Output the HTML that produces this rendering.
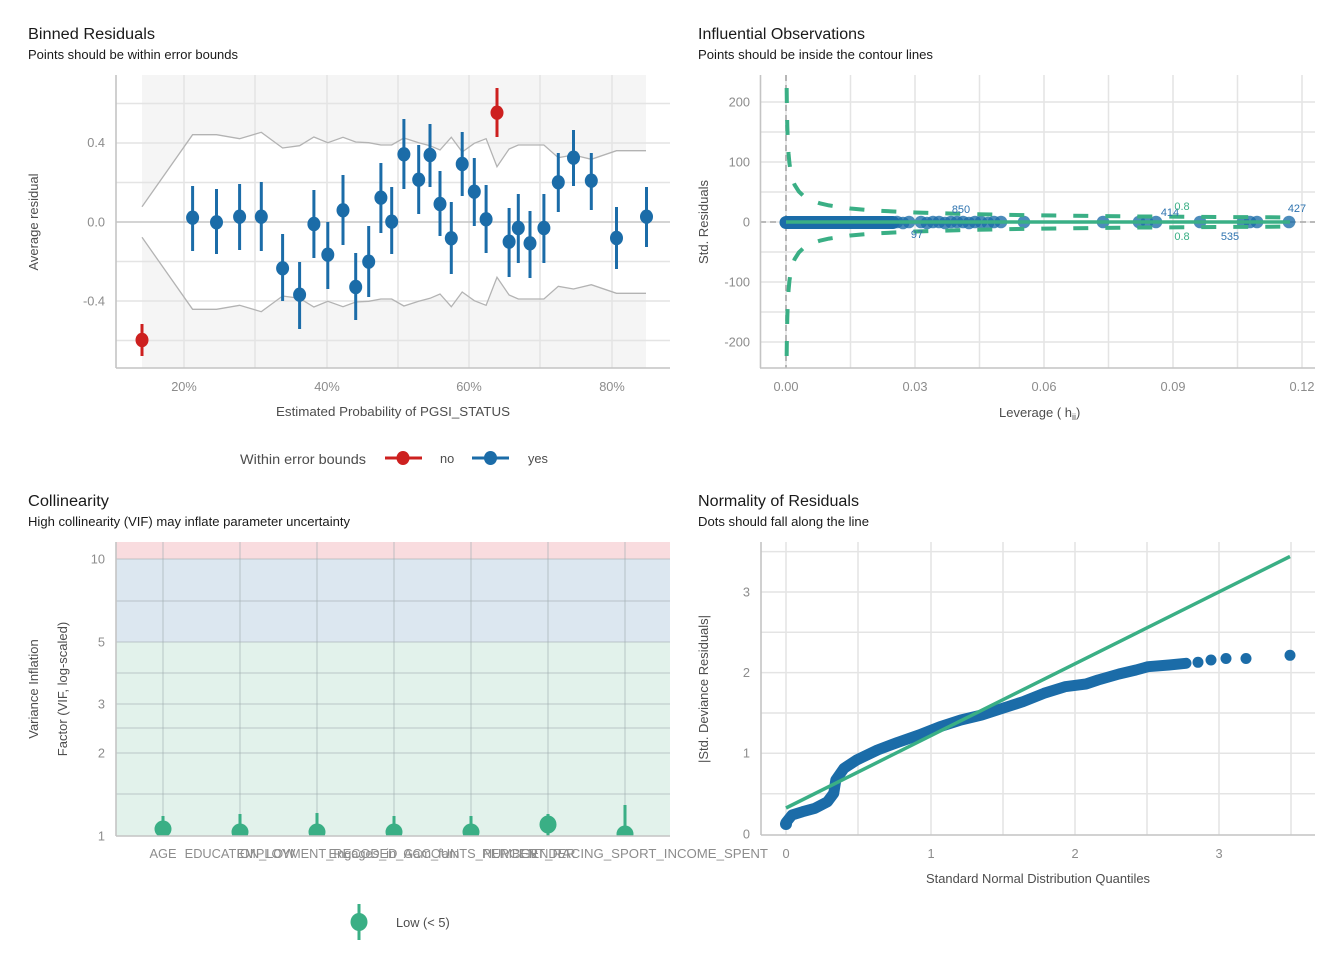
<!DOCTYPE html>
<html><head><meta charset="utf-8"><style>html,body{margin:0;padding:0;background:#fff}svg{display:block}</style></head>
<body>
<svg width="1344" height="960" viewBox="0 0 1344 960" xmlns="http://www.w3.org/2000/svg" font-family="'Liberation Sans', Arial, sans-serif">
<rect width="1344" height="960" fill="#fff"/>
<defs>
<clipPath id="c3"><rect x="116" y="542" width="554" height="294"/></clipPath>
<clipPath id="c2"><rect x="760" y="75" width="555" height="293"/></clipPath>
</defs>

<!-- ================= Panel 1: Binned Residuals ================= -->
<text x="28" y="39" font-size="15.3" fill="#1a1a1a" textLength="127" lengthAdjust="spacingAndGlyphs">Binned Residuals</text>
<text x="28" y="59" font-size="12.8" fill="#1a1a1a" textLength="210" lengthAdjust="spacingAndGlyphs">Points should be within error bounds</text>

<!-- gray outside-bounds regions -->
<path fill="#f5f5f5" d="M142,75 L142,206.7 L192.6,134.7 L216.5,134.7 L239.6,138.7 L261.3,132.3 L282.6,148 L299.6,145.7 L313.9,137 L327.8,142.7 L343,137.3 L355.7,142 L368.7,142.7 L380.9,145 L391.7,145 L403.9,138 L418.7,142.7 L430,145.7 L440,150 L451.3,137.3 L462.2,152 L474.3,143.3 L486.1,138.7 L497,166.7 L509.1,149 L518.3,145 L530,145 L543.9,145 L558.3,157.7 L573.5,155 L591.3,159.3 L616.5,150.7 L646,150.7 L646,75 Z"/>
<path fill="#f5f5f5" d="M142,368 L142,237.3 L192.6,309.3 L216.5,309.3 L239.6,305.3 L261.3,311.7 L282.6,296 L299.6,298.3 L313.9,307 L327.8,301.3 L343,306.7 L355.7,302 L368.7,301.3 L380.9,299 L391.7,299 L403.9,306 L418.7,301.3 L430,298.3 L440,294 L451.3,306.7 L462.2,292 L474.3,300.7 L486.1,305.3 L497,277.3 L509.1,295 L518.3,299 L530,299 L543.9,299 L558.3,286.3 L573.5,289 L591.3,284.7 L616.5,293.3 L646,293.3 L646,368 Z"/>

<g stroke="#e4e4e4" stroke-width="1.5">
<line x1="184" y1="75" x2="184" y2="368"/><line x1="255" y1="75" x2="255" y2="368"/><line x1="327" y1="75" x2="327" y2="368"/><line x1="398" y1="75" x2="398" y2="368"/><line x1="469" y1="75" x2="469" y2="368"/><line x1="540" y1="75" x2="540" y2="368"/><line x1="612" y1="75" x2="612" y2="368"/>
<line x1="116" y1="103.5" x2="670" y2="103.5"/><line x1="116" y1="143" x2="670" y2="143"/><line x1="116" y1="182.5" x2="670" y2="182.5"/><line x1="116" y1="261.5" x2="670" y2="261.5"/><line x1="116" y1="301" x2="670" y2="301"/><line x1="116" y1="340.5" x2="670" y2="340.5"/>
</g>
<line x1="116" y1="222" x2="670" y2="222" stroke="#c6c6c6" stroke-width="1.6"/>

<g fill="none" stroke="#b3b3b3" stroke-width="1.3">
<polyline points="142,206.7 192.6,134.7 216.5,134.7 239.6,138.7 261.3,132.3 282.6,148 299.6,145.7 313.9,137 327.8,142.7 343,137.3 355.7,142 368.7,142.7 380.9,145 391.7,145 403.9,138 418.7,142.7 430,145.7 440,150 451.3,137.3 462.2,152 474.3,143.3 486.1,138.7 497,166.7 509.1,149 518.3,145 530,145 543.9,145 558.3,157.7 573.5,155 591.3,159.3 616.5,150.7 646,150.7"/>
<polyline points="142,237.3 192.6,309.3 216.5,309.3 239.6,305.3 261.3,311.7 282.6,296 299.6,298.3 313.9,307 327.8,301.3 343,306.7 355.7,302 368.7,301.3 380.9,299 391.7,299 403.9,306 418.7,301.3 430,298.3 440,294 451.3,306.7 462.2,292 474.3,300.7 486.1,305.3 497,277.3 509.1,295 518.3,299 530,299 543.9,299 558.3,286.3 573.5,289 591.3,284.7 616.5,293.3 646,293.3"/>
</g>
<g stroke="#c4c4c4" stroke-width="1.6">
<line x1="116" y1="75" x2="116" y2="368"/><line x1="116" y1="368" x2="670" y2="368"/>
</g>

<!-- error bars -->
<g stroke="#1b6ca8" stroke-width="3">
<line x1="192.6" y1="186" x2="192.6" y2="251"/><line x1="216.5" y1="189" x2="216.5" y2="254"/><line x1="239.6" y1="184" x2="239.6" y2="250"/><line x1="261.3" y1="182" x2="261.3" y2="251"/><line x1="282.6" y1="234" x2="282.6" y2="301"/><line x1="299.6" y1="262" x2="299.6" y2="329"/><line x1="313.9" y1="190" x2="313.9" y2="258"/><line x1="327.8" y1="222" x2="327.8" y2="289"/><line x1="343" y1="175" x2="343" y2="245"/><line x1="355.7" y1="253" x2="355.7" y2="320"/><line x1="368.7" y1="226" x2="368.7" y2="297"/><line x1="380.9" y1="163" x2="380.9" y2="233"/><line x1="391.7" y1="187" x2="391.7" y2="254"/><line x1="403.9" y1="119" x2="403.9" y2="189"/><line x1="418.7" y1="145" x2="418.7" y2="214"/><line x1="430" y1="124" x2="430" y2="187"/><line x1="440" y1="171" x2="440" y2="236"/><line x1="451.3" y1="202" x2="451.3" y2="274"/><line x1="462.2" y1="132" x2="462.2" y2="196"/><line x1="474.3" y1="158" x2="474.3" y2="226"/><line x1="486.1" y1="185" x2="486.1" y2="253"/><line x1="509.1" y1="208" x2="509.1" y2="277"/><line x1="518.3" y1="194" x2="518.3" y2="263"/><line x1="530" y1="211" x2="530" y2="278"/><line x1="543.9" y1="194" x2="543.9" y2="263"/><line x1="558.3" y1="153" x2="558.3" y2="212"/><line x1="573.5" y1="130" x2="573.5" y2="186"/><line x1="591.3" y1="153" x2="591.3" y2="210"/><line x1="616.5" y1="207" x2="616.5" y2="269"/><line x1="646.5" y1="187" x2="646.5" y2="247"/>
</g>
<g fill="#1b6ca8">
<ellipse cx="192.6" cy="217.7" rx="6.5" ry="7.2"/><ellipse cx="216.5" cy="222.3" rx="6.5" ry="7.2"/><ellipse cx="239.6" cy="216.7" rx="6.5" ry="7.2"/><ellipse cx="261.3" cy="216.7" rx="6.5" ry="7.2"/><ellipse cx="282.6" cy="268.3" rx="6.5" ry="7.2"/><ellipse cx="299.6" cy="294.7" rx="6.5" ry="7.2"/><ellipse cx="313.9" cy="224" rx="6.5" ry="7.2"/><ellipse cx="327.8" cy="254.7" rx="6.5" ry="7.2"/><ellipse cx="343" cy="210.3" rx="6.5" ry="7.2"/><ellipse cx="355.7" cy="287" rx="6.5" ry="7.2"/><ellipse cx="368.7" cy="261.7" rx="6.5" ry="7.2"/><ellipse cx="380.9" cy="197.7" rx="6.5" ry="7.2"/><ellipse cx="391.7" cy="221.7" rx="6.5" ry="7.2"/><ellipse cx="403.9" cy="154.3" rx="6.5" ry="7.2"/><ellipse cx="418.7" cy="179.7" rx="6.5" ry="7.2"/><ellipse cx="430" cy="155" rx="6.5" ry="7.2"/><ellipse cx="440" cy="204" rx="6.5" ry="7.2"/><ellipse cx="451.3" cy="238.3" rx="6.5" ry="7.2"/><ellipse cx="462.2" cy="164" rx="6.5" ry="7.2"/><ellipse cx="474.3" cy="191.7" rx="6.5" ry="7.2"/><ellipse cx="486.1" cy="219.3" rx="6.5" ry="7.2"/><ellipse cx="509.1" cy="241.7" rx="6.5" ry="7.2"/><ellipse cx="518.3" cy="228" rx="6.5" ry="7.2"/><ellipse cx="530" cy="243.3" rx="6.5" ry="7.2"/><ellipse cx="543.9" cy="228" rx="6.5" ry="7.2"/><ellipse cx="558.3" cy="182.3" rx="6.5" ry="7.2"/><ellipse cx="573.5" cy="157.7" rx="6.5" ry="7.2"/><ellipse cx="591.3" cy="180.7" rx="6.5" ry="7.2"/><ellipse cx="616.5" cy="238" rx="6.5" ry="7.2"/><ellipse cx="646.5" cy="216.7" rx="6.5" ry="7.2"/>
</g>
<g stroke="#cd201f" stroke-width="3">
<line x1="142" y1="324" x2="142" y2="356"/><line x1="497" y1="88" x2="497" y2="137"/>
</g>
<g fill="#cd201f">
<ellipse cx="142" cy="340" rx="6.5" ry="7.2"/><ellipse cx="497" cy="112.7" rx="6.5" ry="7.2"/>
</g>

<g font-size="12.8" fill="#8c8c8c">
<text x="105" y="147" text-anchor="end">0.4</text>
<text x="105" y="226.5" text-anchor="end">0.0</text>
<text x="105" y="305.5" text-anchor="end">-0.4</text>
<text x="184" y="391" text-anchor="middle">20%</text>
<text x="327" y="391" text-anchor="middle">40%</text>
<text x="469" y="391" text-anchor="middle">60%</text>
<text x="612" y="391" text-anchor="middle">80%</text>
</g>
<text x="393" y="416" font-size="13" fill="#4d4d4d" text-anchor="middle" textLength="234" lengthAdjust="spacingAndGlyphs">Estimated Probability of PGSI_STATUS</text>
<text transform="translate(38,222) rotate(-90)" font-size="13" fill="#4d4d4d" text-anchor="middle" textLength="97" lengthAdjust="spacingAndGlyphs">Average residual</text>

<!-- legend panel 1 -->
<text x="240" y="464" font-size="14" fill="#4d4d4d" textLength="126" lengthAdjust="spacingAndGlyphs">Within error bounds</text>
<line x1="385" y1="458" x2="422" y2="458" stroke="#cd201f" stroke-width="3"/>
<ellipse cx="403" cy="458" rx="6.5" ry="7" fill="#cd201f"/>
<text x="440" y="463" font-size="12.8" fill="#4d4d4d">no</text>
<line x1="472" y1="458" x2="509" y2="458" stroke="#1b6ca8" stroke-width="3"/>
<ellipse cx="490.5" cy="458" rx="6.5" ry="7" fill="#1b6ca8"/>
<text x="528" y="463" font-size="12.8" fill="#4d4d4d">yes</text>

<!-- ================= Panel 2: Influential Observations ================= -->
<text x="698" y="39" font-size="15.3" fill="#1a1a1a" textLength="167" lengthAdjust="spacingAndGlyphs">Influential Observations</text>
<text x="698" y="59" font-size="12.8" fill="#1a1a1a" textLength="235" lengthAdjust="spacingAndGlyphs">Points should be inside the contour lines</text>

<g stroke="#e4e4e4" stroke-width="1.5">
<line x1="786" y1="75" x2="786" y2="368"/><line x1="850.5" y1="75" x2="850.5" y2="368"/><line x1="915" y1="75" x2="915" y2="368"/><line x1="979.5" y1="75" x2="979.5" y2="368"/><line x1="1044" y1="75" x2="1044" y2="368"/><line x1="1108.5" y1="75" x2="1108.5" y2="368"/><line x1="1173" y1="75" x2="1173" y2="368"/><line x1="1237.5" y1="75" x2="1237.5" y2="368"/><line x1="1302" y1="75" x2="1302" y2="368"/>
<line x1="760" y1="102" x2="1315" y2="102"/><line x1="760" y1="132" x2="1315" y2="132"/><line x1="760" y1="162" x2="1315" y2="162"/><line x1="760" y1="192" x2="1315" y2="192"/><line x1="760" y1="222" x2="1315" y2="222"/><line x1="760" y1="252" x2="1315" y2="252"/><line x1="760" y1="282" x2="1315" y2="282"/><line x1="760" y1="312" x2="1315" y2="312"/><line x1="760" y1="342" x2="1315" y2="342"/>
</g>
<g stroke="#a8a8a8" stroke-width="1.6" stroke-dasharray="6 4">
<line x1="786" y1="75" x2="786" y2="368"/><line x1="760" y1="222" x2="1315" y2="222"/>
</g>
<g stroke="#c4c4c4" stroke-width="1.6">
<line x1="760.5" y1="75" x2="760.5" y2="368"/><line x1="760" y1="368" x2="1315" y2="368"/>
</g>

<!-- points -->
<line x1="786" y1="222.5" x2="893" y2="222.5" stroke="#1b6ca8" stroke-width="13" stroke-linecap="round"/>
<g fill="#1b6ca8" fill-opacity="0.78">
<circle cx="897" cy="222" r="6.3"/><circle cx="903" cy="223" r="6.3"/><circle cx="909" cy="222" r="6.3"/><circle cx="921" cy="222" r="6.3"/><circle cx="927" cy="223" r="6.3"/><circle cx="933" cy="222" r="6.3"/><circle cx="939" cy="222" r="6.3"/><circle cx="945" cy="223" r="6.3"/><circle cx="951" cy="222" r="6.3"/><circle cx="957" cy="222" r="6.3"/><circle cx="963" cy="222" r="6.3"/><circle cx="969" cy="223" r="6.3"/><circle cx="975" cy="222" r="6.3"/><circle cx="981" cy="222" r="6.3"/><circle cx="988" cy="223" r="6.3"/><circle cx="994" cy="222" r="6.3"/><circle cx="1001" cy="222" r="6.3"/><circle cx="1024" cy="222" r="6.3"/><circle cx="1103" cy="222" r="6.3"/><circle cx="1139" cy="222" r="6.3"/><circle cx="1147" cy="222" r="6.3"/><circle cx="1156" cy="222" r="6.3"/><circle cx="1200" cy="222" r="6.3"/><circle cx="1243" cy="222" r="6.3"/><circle cx="1250" cy="222" r="6.3"/><circle cx="1257" cy="222" r="6.3"/><circle cx="1289" cy="222" r="6.3"/>
</g>
<g clip-path="url(#c2)" fill="none" stroke="#3aaf85" stroke-width="4" stroke-dasharray="15 17">
<path d="M786.66,88 L786.86,104.3 L787.29,125.9 L787.72,138.8 L788.58,154 L789.44,163.2 L790.3,169.4 L792.45,179 L794.6,184.8 L798.9,191.6 L803.2,195.7 L811.8,200.6 L820.4,203.5 L829,205.4 L850.5,208.5 L872,210.4 L915,212.5 L958,213.8 L1001,214.7 L1044,215.4 L1130,216.4 L1216,217 L1289,217.4"/>
<path d="M786.66,356 L786.86,339.7 L787.29,318.1 L787.72,305.2 L788.58,290 L789.44,280.8 L790.3,274.6 L792.45,265 L794.6,259.2 L798.9,252.4 L803.2,248.3 L811.8,243.4 L820.4,240.5 L829,238.6 L850.5,235.5 L872,233.6 L915,231.5 L958,230.2 L1001,229.3 L1044,228.6 L1130,227.6 L1216,227 L1289,226.6"/>
</g>
<line x1="786" y1="222" x2="1290" y2="222" stroke="#3aaf85" stroke-width="3.5"/>

<g font-size="11" fill="#2f74b0">
<text x="961" y="213" text-anchor="middle">850</text>
<text x="917" y="238" text-anchor="middle">97</text>
<text x="1170" y="216" text-anchor="middle">414</text>
<text x="1230" y="240" text-anchor="middle">535</text>
<text x="1297" y="212" text-anchor="middle">427</text>
</g>
<g font-size="11" fill="#3aaf85">
<text x="1182" y="210" text-anchor="middle">0.8</text>
<text x="1182" y="240" text-anchor="middle">0.8</text>
</g>

<g font-size="12.8" fill="#8c8c8c">
<text x="750" y="106.5" text-anchor="end">200</text>
<text x="750" y="166.5" text-anchor="end">100</text>
<text x="750" y="226.5" text-anchor="end">0</text>
<text x="750" y="286.5" text-anchor="end">-100</text>
<text x="750" y="346.5" text-anchor="end">-200</text>
<text x="786" y="391" text-anchor="middle">0.00</text>
<text x="915" y="391" text-anchor="middle">0.03</text>
<text x="1044" y="391" text-anchor="middle">0.06</text>
<text x="1173" y="391" text-anchor="middle">0.09</text>
<text x="1302" y="391" text-anchor="middle">0.12</text>
</g>
<text x="999" y="417" font-size="13" fill="#4d4d4d">Leverage ( h<tspan font-size="9" dy="3">ii</tspan><tspan dy="-3">)</tspan></text>
<text transform="translate(708,222) rotate(-90)" font-size="13" fill="#4d4d4d" text-anchor="middle" textLength="84" lengthAdjust="spacingAndGlyphs">Std. Residuals</text>

<!-- ================= Panel 3: Collinearity ================= -->
<text x="28" y="506" font-size="15.3" fill="#1a1a1a" textLength="81" lengthAdjust="spacingAndGlyphs">Collinearity</text>
<text x="28" y="526" font-size="12.8" fill="#1a1a1a" textLength="322" lengthAdjust="spacingAndGlyphs">High collinearity (VIF) may inflate parameter uncertainty</text>

<rect x="116" y="542" width="554" height="17" fill="#f9dcdf"/>
<rect x="116" y="559" width="554" height="83" fill="#dce7f0"/>
<rect x="116" y="642" width="554" height="194" fill="#e2f2eb"/>
<g stroke="#a0acb0" stroke-opacity="0.4" stroke-width="1.6">
<line x1="116" y1="559" x2="670" y2="559"/><line x1="116" y1="601" x2="670" y2="601"/><line x1="116" y1="642" x2="670" y2="642"/><line x1="116" y1="673" x2="670" y2="673"/><line x1="116" y1="704" x2="670" y2="704"/><line x1="116" y1="728" x2="670" y2="728"/><line x1="116" y1="753" x2="670" y2="753"/><line x1="116" y1="794" x2="670" y2="794"/>
<line x1="163" y1="542" x2="163" y2="836"/><line x1="240" y1="542" x2="240" y2="836"/><line x1="317" y1="542" x2="317" y2="836"/><line x1="394" y1="542" x2="394" y2="836"/><line x1="471" y1="542" x2="471" y2="836"/><line x1="548" y1="542" x2="548" y2="836"/><line x1="625" y1="542" x2="625" y2="836"/>
</g>
<g clip-path="url(#c3)">
<g stroke="#3aaf85" stroke-width="3">
<line x1="163" y1="816" x2="163" y2="840"/><line x1="240" y1="814" x2="240" y2="840"/><line x1="317" y1="813" x2="317" y2="840"/><line x1="394" y1="816" x2="394" y2="840"/><line x1="471" y1="816" x2="471" y2="840"/><line x1="548" y1="814" x2="548" y2="840"/><line x1="625" y1="805" x2="625" y2="840"/>
</g>
<g fill="#3aaf85">
<ellipse cx="163" cy="829" rx="8.5" ry="8.5"/><ellipse cx="240" cy="832" rx="8.5" ry="8.5"/><ellipse cx="317" cy="832" rx="8.5" ry="8.5"/><ellipse cx="394" cy="832" rx="8.5" ry="8.5"/><ellipse cx="471" cy="832" rx="8.5" ry="8.5"/><ellipse cx="548" cy="824.5" rx="8.5" ry="9"/><ellipse cx="625" cy="834" rx="8.5" ry="8.5"/>
</g>
</g>
<g stroke="#c4c4c4" stroke-width="1.6">
<line x1="116" y1="542" x2="116" y2="836"/><line x1="116" y1="836" x2="670" y2="836"/>
</g>
<g font-size="12.8" fill="#8c8c8c">
<text x="105" y="563.5" text-anchor="end">10</text>
<text x="105" y="646.5" text-anchor="end">5</text>
<text x="105" y="708.5" text-anchor="end">3</text>
<text x="105" y="757.5" text-anchor="end">2</text>
<text x="105" y="840.5" text-anchor="end">1</text>
<text x="163" y="858" text-anchor="middle">AGE</text>
<text x="240" y="858" text-anchor="middle">EDUCATION_LOW</text>
<text x="317" y="858" text-anchor="middle">EMPLOYMENT_RECODED</text>
<text x="394" y="858" text-anchor="middle">Engages_in_Gam_fam</text>
<text x="471" y="858" text-anchor="middle">ACCOUNTS_NUMBER</text>
<text x="548" y="858" text-anchor="middle">GENDER</text>
<text x="482" y="858" textLength="286" lengthAdjust="spacingAndGlyphs">PERCENT_RACING_SPORT_INCOME_SPENT</text>
</g>
<text transform="translate(38,689) rotate(-90)" font-size="13" fill="#4d4d4d" text-anchor="middle">Variance Inflation</text>
<text transform="translate(67,689) rotate(-90)" font-size="13" fill="#4d4d4d" text-anchor="middle">Factor (VIF, log-scaled)</text>

<line x1="359" y1="904" x2="359" y2="940" stroke="#3aaf85" stroke-width="3"/>
<ellipse cx="359" cy="922" rx="8.5" ry="9" fill="#3aaf85"/>
<text x="396" y="927" font-size="12.8" fill="#4d4d4d">Low (&lt; 5)</text>

<!-- ================= Panel 4: Normality of Residuals ================= -->
<text x="698" y="506" font-size="15.3" fill="#1a1a1a" textLength="161" lengthAdjust="spacingAndGlyphs">Normality of Residuals</text>
<text x="698" y="526" font-size="12.8" fill="#1a1a1a" textLength="171" lengthAdjust="spacingAndGlyphs">Dots should fall along the line</text>

<g stroke="#e4e4e4" stroke-width="1.5">
<line x1="786" y1="542" x2="786" y2="835"/><line x1="858" y1="542" x2="858" y2="835"/><line x1="931" y1="542" x2="931" y2="835"/><line x1="1003" y1="542" x2="1003" y2="835"/><line x1="1075" y1="542" x2="1075" y2="835"/><line x1="1147" y1="542" x2="1147" y2="835"/><line x1="1219" y1="542" x2="1219" y2="835"/><line x1="1291" y1="542" x2="1291" y2="835"/>
<line x1="761" y1="551.6" x2="1315" y2="551.6"/><line x1="761" y1="592" x2="1315" y2="592"/><line x1="761" y1="632.3" x2="1315" y2="632.3"/><line x1="761" y1="672.6" x2="1315" y2="672.6"/><line x1="761" y1="713" x2="1315" y2="713"/><line x1="761" y1="753.3" x2="1315" y2="753.3"/><line x1="761" y1="793.7" x2="1315" y2="793.7"/>
</g>
<g stroke="#c4c4c4" stroke-width="1.6">
<line x1="761" y1="542" x2="761" y2="835"/><line x1="761" y1="835" x2="1315" y2="835"/>
</g>
<polyline fill="none" stroke="#1b6ca8" stroke-width="11" stroke-linecap="round" stroke-linejoin="round" points="786,822.5 792,815 802.5,811.7 815,808.3 827.5,801.7 833.75,793.3 835.8,780 844,768.3 856.7,760 877.5,750 898,742.3 919,735 940,726.7 960.8,720 981.7,715 1002.5,708.3 1023,701.7 1044,693.3 1065,686.7 1086,684 1098,680 1119,674 1136,670 1148,666.7 1169,665 1186,663.3"/>
<circle cx="786" cy="824" r="6" fill="#1b6ca8"/>
<g fill="#1b6ca8">
<circle cx="1198" cy="662.3" r="5.5"/><circle cx="1211" cy="660" r="5.5"/><circle cx="1226" cy="658.5" r="5.5"/><circle cx="1246" cy="658.5" r="5.5"/><circle cx="1290" cy="655.3" r="5.5"/>
</g>
<line x1="786" y1="808" x2="1290" y2="556.5" stroke="#3aaf85" stroke-width="3.5"/>

<g font-size="12.8" fill="#8c8c8c">
<text x="750" y="838.5" text-anchor="end">0</text>
<text x="750" y="757.5" text-anchor="end">1</text>
<text x="750" y="677" text-anchor="end">2</text>
<text x="750" y="596.5" text-anchor="end">3</text>
<text x="786" y="858" text-anchor="middle">0</text>
<text x="931" y="858" text-anchor="middle">1</text>
<text x="1075" y="858" text-anchor="middle">2</text>
<text x="1219" y="858" text-anchor="middle">3</text>
</g>
<text x="1038" y="883" font-size="13" fill="#4d4d4d" text-anchor="middle" textLength="224" lengthAdjust="spacingAndGlyphs">Standard Normal Distribution Quantiles</text>
<text transform="translate(708,689) rotate(-90)" font-size="13" fill="#4d4d4d" text-anchor="middle" textLength="148" lengthAdjust="spacingAndGlyphs">|Std. Deviance Residuals|</text>
</svg>
</body></html>
